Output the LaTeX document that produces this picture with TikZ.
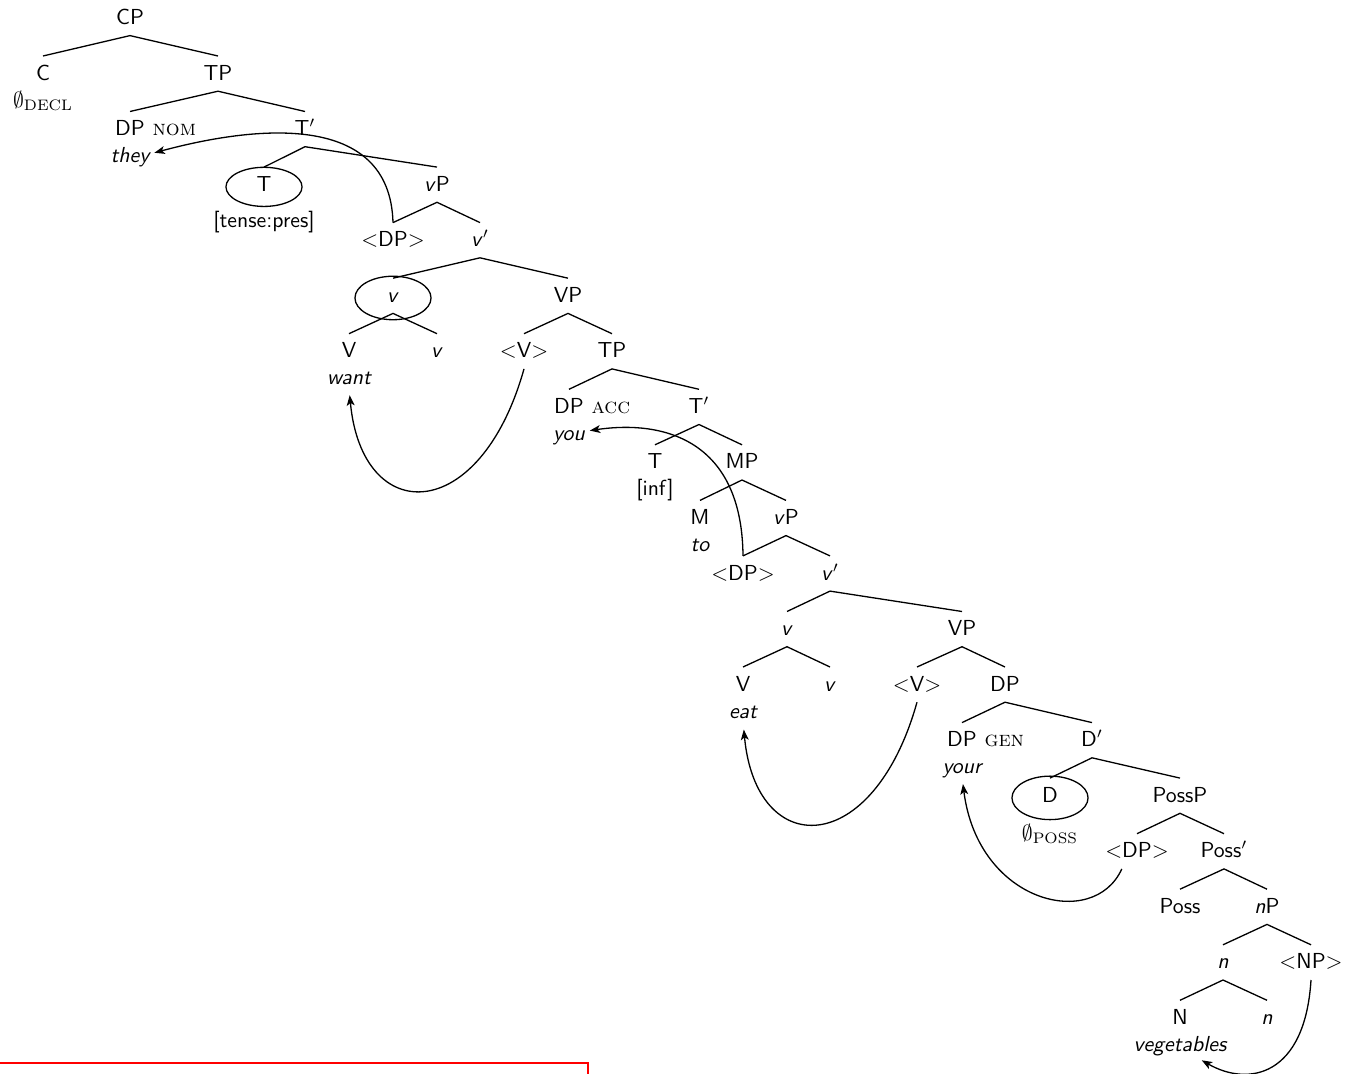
\documentclass[tikz,border=0pt]{standalone}
\usetikzlibrary{positioning, arrows.meta}

\newcommand{\cas}[1]{{\rmfamily\scshape #1}}
\newcommand{\trc}[1]{$<$#1$>$}

\begin{document}
\begin{tikzpicture}[
  x=0.46pt, y=-0.46pt,
  font=\sffamily, line width=0.6pt,
  cat/.style={inner xsep=2pt, inner ysep=3.8pt, text height=7pt, text depth=1pt},
  word/.style={inner sep=0pt, text height=7pt, text depth=1pt},
  casemark/.style={inner sep=0pt, text height=7pt, text depth=1pt},
  move/.style={-{Stealth[length=4.8pt, width=3.6pt, inset=1.2pt]}}
]
\useasboundingbox (0,0) rectangle (1350,1074);

% matrix clause
\node[cat] (cp) at (130,18) {CP};
\node[cat] (c) at (43,73.6) {C};
\node[word, below=0pt of c] (decl) {$\emptyset_{\mathrm{DECL}}$};
\node[cat] (tp) at (218,73.6) {TP};
\node[cat] (dpnom) at (130,129.1) {DP};
\node[casemark, right=1pt of dpnom] (nom) {\cas{nom}};
\node[word, below=0pt of dpnom] (they) {\itshape they};
\node[cat] (tbar) at (305,129.1) {T$'$};
\node[cat] (t1) at (264,184.7) {T};
\node[word, below=4.5pt of t1] (tense) {[tense:pres]};
\node[cat] (vp1) at (437,184.7) {\textit{v}P};
\node[cat] (dp1) at (393,240.2) {\trc{DP}};
\node[cat] (vbar1) at (480,240.2) {\textit{v}$'$};
\node[cat] (v1) at (393,295.8) {\textit{v}};
\node[cat] (vp2) at (568,295.8) {VP};
\node[cat] (V1) at (349,351.3) {V};
\node[word, below=0pt of V1] (want) {\itshape want};
\node[cat] (vs1) at (437,351.3) {\textit{v}};
\node[cat] (vtr1) at (524,351.3) {\trc{V}};
\node[cat] (tp2) at (612,351.3) {TP};

% embedded clause
\node[cat] (dpacc) at (569,406.9) {DP};
\node[casemark, right=1pt of dpacc] (acc) {\cas{acc}};
\node[word, below=0pt of dpacc] (you) {\itshape you};
\node[cat] (tbar2) at (699,406.9) {T$'$};
\node[cat] (t2) at (655,462.4) {T};
\node[word, below=0pt of t2] (inf) {[inf]};
\node[cat] (mp) at (742,462.4) {MP};
\node[cat] (m) at (700,518) {M};
\node[word, below=0pt of m] (towd) {\itshape to};
\node[cat] (vp3) at (786,518) {\textit{v}P};
\node[cat] (dp2) at (743,573.5) {\trc{DP}};
\node[cat] (vbar2) at (830,573.5) {\textit{v}$'$};
\node[cat] (v2) at (787,629.1) {\textit{v}};
\node[cat] (vp4) at (962,629.1) {VP};
\node[cat] (V2) at (743,684.6) {V};
\node[word, below=0pt of V2] (eat) {\itshape eat};
\node[cat] (vs2) at (830,684.6) {\textit{v}};
\node[cat] (vtr2) at (917,684.6) {\trc{V}};
\node[cat] (dp3) at (1005,684.6) {DP};

% possessive DP
\node[cat] (dpgen) at (962,740.2) {DP};
\node[casemark, right=1pt of dpgen] (gen) {\cas{gen}};
\node[word, below=0pt of dpgen] (your) {\itshape your};
\node[cat] (dbar) at (1092,740.2) {D$'$};
\node[cat] (d) at (1050,795.7) {D};
\node[word, below=5pt of d] (possnull) {$\emptyset_{\mathrm{POSS}}$};
\node[cat] (possp) at (1180,795.7) {PossP};
\node[cat] (dp4) at (1137,851.3) {\trc{DP}};
\node[cat] (possbar) at (1224,851.3) {Poss$'$};
\node[cat] (poss) at (1180,906.8) {Poss};
\node[cat] (np) at (1267,906.8) {\textit{n}P};
\node[cat] (n1) at (1223,962.4) {\textit{n}};
\node[cat] (nptr) at (1311,962.4) {\trc{NP}};
\node[cat] (N) at (1180,1017.9) {N};
\node[word, below=0pt of N] (veg) {\itshape vegetables};
\node[cat] (n2) at (1267,1017.9) {\textit{n}};

% branches
\draw (c.north) -- (cp.south) -- (tp.north);
\draw (dpnom.north) -- (tp.south) -- (tbar.north);
\draw (t1.north) -- (tbar.south) -- (vp1.north);
\draw (dp1.north) -- (vp1.south) -- (vbar1.north);
\draw (v1.north) -- (vbar1.south) -- (vp2.north);
\draw (V1.north) -- (v1.south) -- (vs1.north);
\draw (vtr1.north) -- (vp2.south) -- (tp2.north);
\draw (dpacc.north) -- (tp2.south) -- (tbar2.north);
\draw (t2.north) -- (tbar2.south) -- (mp.north);
\draw (m.north) -- (mp.south) -- (vp3.north);
\draw (dp2.north) -- (vp3.south) -- (vbar2.north);
\draw (v2.north) -- (vbar2.south) -- (vp4.north);
\draw (V2.north) -- (v2.south) -- (vs2.north);
\draw (vtr2.north) -- (vp4.south) -- (dp3.north);
\draw (dpgen.north) -- (dp3.south) -- (dbar.north);
\draw (d.north) -- (dbar.south) -- (possp.north);
\draw (dp4.north) -- (possp.south) -- (possbar.north);
\draw (poss.north) -- (possbar.south) -- (np.north);
\draw (n1.north) -- (np.south) -- (nptr.north);
\draw (N.north) -- (n1.south) -- (n2.north);

% circled heads
\draw ([yshift=-1pt]t1.center) ellipse [x radius=17.5pt, y radius=9pt];
\draw ([yshift=-1pt]v1.center) ellipse [x radius=17.5pt, y radius=10pt];
\draw ([yshift=-1pt]d.center) ellipse [x radius=17.5pt, y radius=10pt];

% movement
\draw[move] (dp1.north) .. controls +(-3,-112) and +(100,-27) .. ([shift={(2pt,1.5pt)}]they.east);
\draw[move, shorten >=3.5pt] (vtr1.south) .. controls +(-44,157) and +(13,140) .. (want.south);
\draw[move] (dp2.north) .. controls +(-1,-115) and +(75,-11) .. ([shift={(2pt,1.5pt)}]you.east);
\draw[move, shorten >=4pt] (vtr2.south) .. controls +(-44,157) and +(13,140) .. (eat.south);
\draw[move, shorten >=3.5pt] ([xshift=-7pt]dp4.south) .. controls +(-28,62) and +(16,127) .. (your.south);
\draw[move] (nptr.south) .. controls +(-6,96) and +(47,27) .. ([shift={(10pt,-2.8pt)}]veg.south);

\draw[red, line width=0.5pt] (0,1063) -- (588,1063) -- (588,1080);
\end{tikzpicture}
\end{document}
